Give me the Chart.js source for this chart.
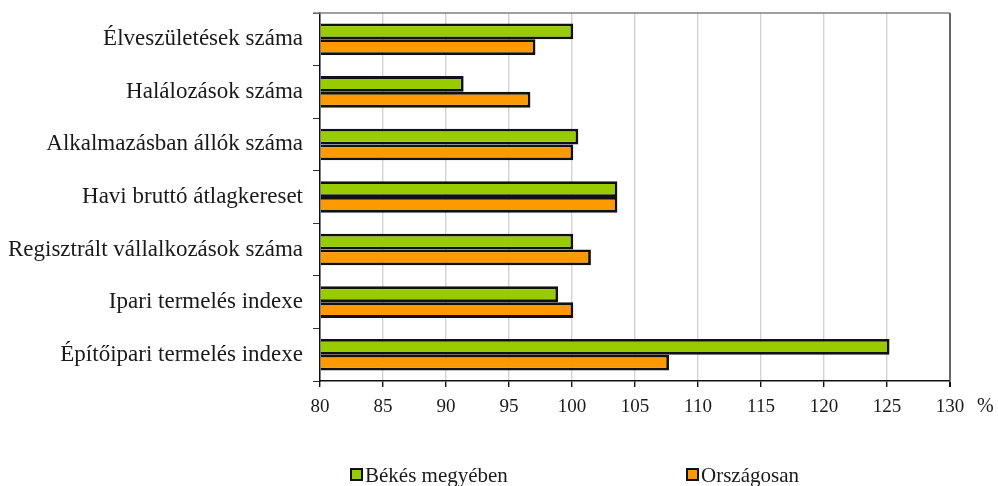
<!DOCTYPE html>
<html>
<head>
<meta charset="utf-8">
<script src="https://cdn.jsdelivr.net/npm/chart.js@4"></script>
<style>
  html, body { margin: 0; padding: 0; background: #fff; }
  #wrap { position: relative; width: 998px; height: 486px; }
  canvas { position: absolute; left: 0; top: 0; }
  .lg { position: absolute; top: 463px; font-family: "Liberation Serif", serif; font-size: 21px; color: #1a1a1a; white-space: nowrap; }
  .lg span.box { display: inline-block; width: 9px; height: 9px; border: 2px solid #111; margin-right: 2px; vertical-align: 1px; }
  #pct { position: absolute; top: 394px; left: 977px; font-family: "Liberation Serif", serif; font-size: 20px; color: #1a1a1a; }
</style>
</head>
<body>
<div id="wrap">
  <canvas id="c" width="998" height="486"></canvas>
  <div id="pct">%</div>
  <div class="lg" style="left:350px"><span class="box" style="background:#99cc00"></span>Békés megyében</div>
  <div class="lg" style="left:686px"><span class="box" style="background:#ff9900"></span>Országosan</div>
</div>
<script>
const categories = [
  "Élveszületések száma",
  "Halálozások száma",
  "Alkalmazásban állók száma",
  "Havi bruttó átlagkereset",
  "Regisztrált vállalkozások száma",
  "Ipari termelés indexe",
  "Építőipari termelés indexe"
];
const bekesValues = [100.1, 91.4, 100.5, 103.6, 100.1, 98.9, 125.2];
const orszagValues = [97.1, 96.7, 100.1, 103.6, 101.5, 100.1, 107.7];
const seriesNames = ["Békés megyében", "Országosan"];
const xMin = 80, xMax = 130, xStep = 5;

const topLine = {
  id: 'topLine',
  beforeDatasetsDraw(chart) {
    const {ctx, chartArea} = chart;
    ctx.save();
    ctx.strokeStyle = '#808080';
    ctx.lineWidth = 1.5;
    ctx.beginPath();
    ctx.moveTo(chartArea.left - 7, chartArea.top);
    ctx.lineTo(chartArea.right, chartArea.top);
    ctx.stroke();
    ctx.restore();
  }
};

new Chart(document.getElementById('c'), {
  type: 'bar',
  data: {
    labels: categories,
    datasets: [
      { label: seriesNames[0], data: bekesValues, backgroundColor: '#99cc00', borderColor: '#111', borderWidth: 2.8, base: xMin },
      { label: seriesNames[1], data: orszagValues, backgroundColor: '#ff9900', borderColor: '#111', borderWidth: 2.8, base: xMin }
    ]
  },
  options: {
    responsive: false,
    animation: false,
    indexAxis: 'y',
    layout: { padding: { left: 0, right: 48, top: 13, bottom: 0 } },
    datasets: { bar: { categoryPercentage: 0.6, barPercentage: 1.0 } },
    plugins: { legend: { display: false }, tooltip: { enabled: false } },
    scales: {
      x: {
        min: xMin, max: xMax,
        ticks: { stepSize: xStep, color: '#1a1a1a', padding: 9, font: { family: 'Liberation Serif', size: 19 } },
        grid: {
          color: ctx => (ctx.tick && ctx.tick.value === xMax) ? '#666' : '#d3d3d3',
          lineWidth: ctx => (ctx.tick && ctx.tick.value === xMax) ? 2 : 1.4,
          tickColor: '#111', tickLength: 6
        },
        border: { color: '#111', width: 1.5 },
        afterFit: s => { s.height = 105; s.paddingLeft = 0; s.paddingRight = 0; }
      },
      y: {
        ticks: { color: '#1a1a1a', padding: 10, font: { family: 'Liberation Serif', size: 23 } },
        grid: { drawOnChartArea: false, offset: true, tickColor: '#333', tickLength: 7 },
        border: { color: '#111', width: 1.5 },
        afterFit: s => { s.width = 320; s.paddingTop = 0; s.paddingBottom = 0; }
      }
    }
  },
  plugins: [topLine]
});
</script>
</body>
</html>
